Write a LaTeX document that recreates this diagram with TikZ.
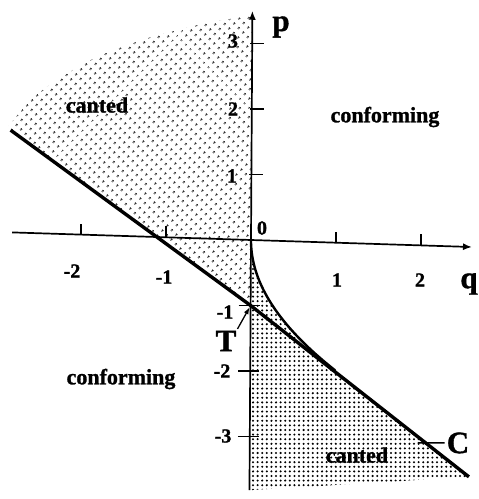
\documentclass[tikz,border=0pt]{standalone}
\usepackage{fontspec}
\setmainfont{Liberation Serif}[BoldFont={Liberation Serif Bold}, BoldFeatures={FakeBold=1.2}]
\usetikzlibrary{patterns.meta,arrows.meta}
\tikzset{
  lab/.style={font=\fontsize{22}{24}\selectfont\bfseries, inner sep=0pt},
  num/.style={font=\fontsize{20}{22}\selectfont\bfseries, inner sep=0pt},
  big/.style={font=\fontsize{31}{32}\selectfont\bfseries, inner sep=0pt},
  axisline/.style={line width=1.7pt, -{Latex[length=9pt,width=7pt]}},
  tickline/.style={line width=1.5pt},
  boundary/.style={line width=3.4pt, line join=round},
  curveline/.style={line width=2.4pt},
  sparsedots/.style={pattern={Dots[distance=6.5pt, angle=45, radius=1.3pt]}},
  densedots/.style={pattern={Dots[distance=4.6pt, radius=1.15pt]}}
}
\begin{document}
\begin{tikzpicture}
\fill[white] (0,0) rectangle (479pt,499pt);
\useasboundingbox (0,0) rectangle (479pt,499pt);
\begin{scope}[shift={(251pt,259pt)}, x={(85pt,-2.7pt)}, y={(0.4pt,65.5pt)}]
  % shaded regions
  \fill[sparsedots] plot[smooth] coordinates {(-2.86,1.62) (-2.565,2.077) (-2.165,2.46) (-1.776,2.75) (-1.188,3.05) (-0.6,3.27) (0,3.43)}
     -- (0,-1) -- (-2.835,1.56) -- cycle;
  \fill[densedots] (0,0) -- plot[domain=0:1, samples=40, variable=\t] ({\t*\t},{-1.97*\t}) -- (2.58,-3.51) -- (0,-3.82) -- cycle;
  % axes
  \coordinate (O) at (0,0);
  \coordinate (qL) at (-2.81,0);
  \coordinate (qR) at (2.6,0);
  \coordinate (pB) at (0,-3.82);
  \coordinate (pT) at (0,3.5);
  \draw[axisline] (qL) -- (qR);
  \draw[axisline] (pB) -- (pT);
  % ticks
  \foreach \q in {-2,-1,1,2} \draw[tickline] (\q,0) -- ++(0,11pt);
  \foreach \p in {1,2,3} \draw[tickline] (0,\p) ++(-2pt,0) -- ++(14pt,0);
  \foreach \p in {-1,-2,-3} \draw[tickline] (0,\p) ++(-12pt,0) -- ++(21pt,0);
  % boundary line and curve
  \coordinate (L1) at (-2.835,1.56);
  \coordinate (Tpt) at (0,-1);
  \coordinate (L2) at (2.58,-3.51);
  \coordinate (Cpt) at (2.07,-3.01);
  \draw[boundary] (L1) -- (Tpt) -- (L2);
  \draw[curveline] plot[domain=0:1, samples=40, variable=\t] ({\t*\t},{-1.95*\t});
\end{scope}
% axis labels
\node[big] (plab) at (281pt,472pt) {p};
\node[big] (qlab) at (469pt,215pt) {q};
\node[num] (zero) at (262pt,271pt) {0};
\node[num] (p3) at (233pt,458pt) {3};
\node[num] (p2) at (233pt,390pt) {2};
\node[num] (p1) at (232pt,323pt) {1};
\node[num] (pm1) at (225pt,187pt) {-1};
\node[num] (pm2) at (222pt,128pt) {-2};
\node[num] (pm3) at (223pt,63pt) {-3};
\node[num] (qm2) at (72pt,228pt) {-2};
\node[num] (qm1) at (164pt,222pt) {-1};
\node[num] (q1) at (337pt,219pt) {1};
\node[num] (q2) at (420pt,219pt) {2};
% region labels
\node[lab] (cantedA) at (97pt,394pt) {canted};
\node[lab] (confA) at (385pt,382pt) {conforming};
\node[lab] (confB) at (121pt,120pt) {conforming};
\node[lab] (cantedB) at (357pt,44pt) {canted};
% points T and C
\node[big] (T) at (226pt,158pt) {T};
\node[big] (C) at (458pt,56pt) {C};
\draw[line width=1.3pt, -{Latex[length=7pt,width=5pt]}, shorten >=2pt, shorten <=2pt] (T.north east) -- (Tpt);
\draw[line width=1.5pt] (C.west) ++(-2pt,0) -- ([xshift=-8pt]Cpt);
\end{tikzpicture}
\end{document}
